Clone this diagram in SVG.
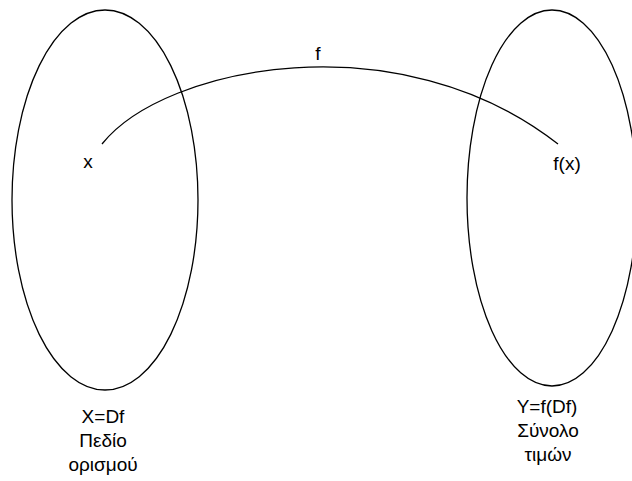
<svg xmlns="http://www.w3.org/2000/svg" width="632" height="481" viewBox="0 0 632 481">
<style>
.sh{fill:none;stroke:#000;stroke-width:1.3}
.t{font-family:"Liberation Sans",Arial,sans-serif;font-size:19px;fill:#000;text-anchor:middle}
</style>
<rect width="632" height="481" fill="#fff"/>
<g id="domain">
<ellipse class="sh" cx="105" cy="200" rx="93" ry="190"/>
<text class="t" x="88" y="168">x</text>
<text class="t" x="103" y="423">X=Df</text>
<text class="t" x="103" y="447">Πεδίο</text>
<text class="t" x="103" y="471">ορισμού</text>
</g>
<g id="range">
<ellipse class="sh" cx="552" cy="198" rx="85" ry="188"/>
<text class="t" x="567" y="170">f(x)</text>
<text class="t" x="547" y="413">Y=f(Df)</text>
<text class="t" x="548" y="437">Σύνολο</text>
<text class="t" x="548" y="461">τιμών</text>
</g>
<g id="connectors">
<path class="sh" d="M102,144 C165,65 400,20 558,144"/>
<text class="t" x="318" y="60">f</text>
</g>
</svg>
